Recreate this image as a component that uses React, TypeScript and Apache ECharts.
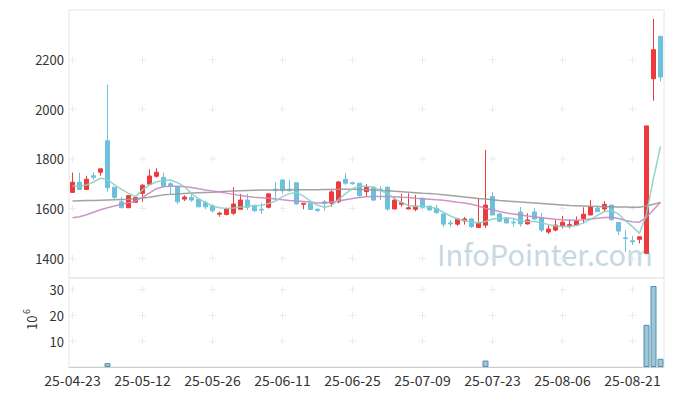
import React, { useEffect, useRef } from "react";
import * as echarts from "echarts";

const dates = [
  "25-04-23","25-04-24","25-04-25","25-04-28","25-04-29","25-04-30","25-05-02","25-05-07","25-05-08","25-05-09",
  "25-05-12","25-05-13","25-05-14","25-05-15","25-05-16","25-05-19","25-05-20","25-05-21","25-05-22","25-05-23",
  "25-05-26","25-05-27","25-05-28","25-05-29","25-05-30","25-06-02","25-06-04","25-06-05","25-06-09","25-06-10",
  "25-06-11","25-06-12","25-06-13","25-06-16","25-06-17","25-06-18","25-06-19","25-06-20","25-06-23","25-06-24",
  "25-06-25","25-06-26","25-06-27","25-06-30","25-07-01","25-07-02","25-07-03","25-07-04","25-07-07","25-07-08",
  "25-07-09","25-07-10","25-07-11","25-07-14","25-07-15","25-07-16","25-07-17","25-07-18","25-07-21","25-07-22",
  "25-07-23","25-07-24","25-07-25","25-07-28","25-07-29","25-07-30","25-07-31","25-08-01","25-08-04","25-08-05",
  "25-08-06","25-08-07","25-08-08","25-08-11","25-08-12","25-08-13","25-08-14","25-08-18","25-08-19","25-08-20",
  "25-08-21","25-08-22","25-08-25","25-08-26","25-08-27"
];

const opens = [
  1665,1706,1677,1732,1746,1873,1686,1627,1603,1625,
  1661,1698,1730,1726,1700,1688,1638,1644,1637,1623,
  1610,1577,1576,1581,1597,1634,1610,1597,1605,1678,
  1715,1678,1704,1617,1621,1597,1627,1621,1627,1718,
  1704,1702,1668,1686,1678,1686,1598,1617,1598,1597,
  1641,1610,1601,1578,1542,1537,1550,1558,1524,1533,
  1648,1578,1562,1545,1586,1538,1586,1563,1505,1513,
  1530,1530,1533,1560,1574,1601,1598,1614,1544,1482,
  1470,1476,1419,2123,2294
];
const closes = [
  1706,1677,1718,1726,1760,1684,1645,1603,1652,1644,
  1694,1731,1746,1690,1693,1627,1646,1634,1607,1607,
  1591,1581,1599,1618,1634,1605,1591,1594,1659,1672,
  1672,1672,1618,1621,1596,1592,1620,1667,1707,1702,
  1700,1652,1686,1634,1672,1598,1634,1623,1603,1610,
  1605,1594,1583,1537,1538,1558,1558,1527,1541,1614,
  1574,1549,1542,1542,1538,1554,1558,1513,1517,1533,
  1545,1535,1550,1577,1607,1588,1617,1555,1509,1479,
  1466,1486,1933,2240,2130
];
const lows = [
  1665,1676,1677,1715,1732,1668,1639,1603,1603,1625,
  1627,1698,1724,1690,1656,1618,1630,1627,1605,1597,
  1584,1567,1572,1574,1597,1594,1586,1578,1600,1634,
  1660,1668,1617,1597,1594,1586,1591,1607,1621,1695,
  1696,1648,1648,1630,1634,1591,1598,1607,1598,1589,
  1601,1594,1580,1525,1527,1530,1535,1522,1524,1522,
  1574,1545,1540,1527,1527,1535,1555,1505,1497,1508,
  1520,1520,1533,1540,1574,1585,1587,1552,1493,1425,
  1453,1459,1419,2034,2112
];
const highs = [
  1745,1745,1732,1746,1760,2099,1686,1645,1652,1644,
  1698,1758,1762,1745,1708,1688,1653,1661,1640,1631,
  1617,1587,1603,1686,1659,1659,1617,1623,1662,1706,
  1718,1715,1704,1623,1623,1601,1635,1675,1711,1742,
  1708,1702,1698,1690,1690,1690,1645,1659,1661,1655,
  1645,1610,1614,1580,1554,1562,1566,1560,1641,1836,
  1666,1582,1565,1559,1606,1581,1601,1582,1533,1554,
  1570,1556,1568,1605,1634,1611,1630,1614,1544,1513,
  1490,1488,1933,2364,2294
];

const ma5 = [
  1691,1691,1695,1707,1722,1717,1695,1677,1661,1648,
  1675,1695,1708,1713,1715,1704,1688,1660,1640,1625,
  1610,1603,1600,1602,1606,1608,1612,1612,1620,1630,
  1648,1660,1665,1650,1630,1613,1605,1612,1636,1660,
  1680,1690,1690,1685,1672,1660,1640,1625,1612,1608,
  1610,1605,1600,1585,1570,1558,1552,1545,1543,1548,
  1558,1560,1562,1560,1550,1548,1548,1543,1535,1530,
  1528,1528,1532,1542,1556,1572,1588,1592,1578,1550,
  1527,1500,1578,1722,1850
];
const ma20 = [
  1563,1567,1575,1585,1595,1603,1610,1617,1623,1630,
  1645,1663,1680,1688,1690,1690,1688,1685,1680,1675,
  1671,1667,1662,1657,1652,1648,1645,1643,1641,1638,
  1635,1632,1630,1628,1626,1622,1622,1626,1630,1635,
  1640,1644,1647,1648,1648,1648,1647,1645,1644,1641,
  1639,1637,1635,1633,1629,1625,1622,1617,1610,1600,
  1595,1588,1582,1578,1574,1570,1567,1563,1560,1557,
  1555,1553,1553,1555,1558,1561,1564,1565,1560,1552,
  1547,1545,1565,1595,1625
];
const ma60 = [
  1630,1631,1632,1632,1633,1634,1635,1636,1637,1639,
  1642,1645,1650,1655,1657,1659,1661,1663,1664,1665,
  1666,1668,1670,1671,1672,1673,1674,1675,1675,1675,
  1676,1676,1676,1676,1676,1676,1677,1677,1678,1678,
  1678,1677,1676,1675,1673,1672,1670,1668,1666,1664,
  1662,1661,1658,1655,1652,1649,1646,1643,1640,1638,
  1635,1632,1630,1628,1626,1624,1622,1620,1618,1616,
  1614,1612,1611,1610,1609,1608,1607,1607,1606,1606,
  1605,1605,1610,1617,1624
];

// volume in millions of shares (days too small to see are 0)
const volumes = [
  0,0,0,0,0,1.5,0,0,0,0,
  0,0,0,0,0,0,0,0,0,0,
  0,0,0,0,0,0,0,0,0,0,
  0,0,0,0,0,0,0,0,0,0,
  0,0,0,0,0,0,0,0,0,0,
  0,0,0,0,0,0,0,0,0,2.5,
  0,0,0,0,0,0,0,0,0,0,
  0,0,0,0,0,0,0,0,0,0,
  0,0,16.4,31.5,3.2
];

const priceTicks = [1400, 1600, 1800, 2000, 2200];
const volumeTicks = [10, 20, 30];
const labelEvery = 10;

const RED = "#ee3a3a";
const BLUE = "#6cc2dc";
const FONT = "'Noto Sans CJK KR', 'Noto Sans', sans-serif";

export default function App() {
  const ref = useRef<HTMLDivElement>(null);
  useEffect(() => {
    const chart = echarts.init(ref.current!, null, { renderer: "svg" });
    const candleData = dates.map((_, i) => [opens[i], closes[i], lows[i], highs[i]]);
    const tickIdx = dates.map((_, i) => i).filter((i) => i % labelEvery === 0);
    const mainMarks: number[][] = [];
    tickIdx.forEach((i) => priceTicks.forEach((v) => mainMarks.push([i, v])));
    const volMarks: number[][] = [];
    tickIdx.forEach((i) => volumeTicks.forEach((v) => volMarks.push([i, v])));
    const plus = "path://M3,0h1v3h3v1h-3v3h-1v-3h-3v-1h3z";
    const grids = [
      { left: 69, top: 10, width: 595, height: 268 },
      { left: 69, top: 278, width: 595, height: 89 },
    ];
    const volData = volumes.map((v) =>
      v > 0 ? v : { value: v, itemStyle: { borderWidth: 0, opacity: 0 } }
    );
    chart.setOption({
      animation: false,
      textStyle: { fontFamily: FONT },
      grid: grids.map((g) => ({
        ...g,
        show: true,
        borderColor: "#e6e6e6",
        borderWidth: 1,
        backgroundColor: "transparent",
      })),
      xAxis: [
        {
          type: "category",
          gridIndex: 0,
          data: dates,
          boundaryGap: true,
          axisLine: { show: false },
          axisTick: { show: false },
          axisLabel: { show: false },
          splitLine: { show: false },
        },
        {
          type: "category",
          gridIndex: 1,
          data: dates,
          boundaryGap: true,
          axisLine: { show: true, lineStyle: { color: "#cccccc" } },
          axisTick: { show: false },
          axisLabel: {
            interval: labelEvery - 1,
            color: "#333",
            fontSize: 14,
            fontFamily: FONT,
            margin: 6,
          },
          splitLine: { show: false },
        },
      ],
      yAxis: [
        {
          type: "value",
          gridIndex: 0,
          min: 1320,
          max: 2400,
          axisLine: { show: false },
          axisTick: { show: false },
          splitLine: { show: false },
          axisLabel: {
            customValues: priceTicks,
            formatter: (v: number) => String(v),
            color: "#333",
            fontSize: 13,
            fontFamily: FONT,
            margin: 5,
          },
        },
        {
          type: "value",
          gridIndex: 1,
          min: 0,
          max: 34.6,
          axisLine: { show: false },
          axisTick: { show: false },
          splitLine: { show: false },
          axisLabel: {
            customValues: volumeTicks,
            formatter: (v: number) => String(v),
            color: "#333",
            fontSize: 13,
            fontFamily: FONT,
            margin: 5,
          },
        },
      ],
      graphic: [
        {
          type: "text",
          left: 437,
          top: 238,
          silent: true,
          z: 0,
          style: {
            text: "InfoPointer.com",
            fill: "#c5d8e4",
            fontSize: 29,
            fontFamily: FONT,
          },
        },
        {
          type: "group",
          x: 38,
          y: 330,
          rotation: Math.PI / 2,
          children: [
            {
              type: "text",
              x: 0,
              y: 0,
              style: { text: "10", fontSize: 13, fill: "#333", fontFamily: FONT, textVerticalAlign: "bottom" },
            },
            {
              type: "text",
              x: 16,
              y: -7,
              style: { text: "6", fontSize: 9, fill: "#333", fontFamily: FONT, textVerticalAlign: "bottom" },
            },
          ],
        },
      ],
      series: [
        {
          type: "scatter",
          xAxisIndex: 0,
          yAxisIndex: 0,
          data: mainMarks,
          symbol: plus,
          symbolSize: 7,
          itemStyle: { color: "#e6e6e6" },
          silent: true,
          z: 1,
        },
        {
          type: "scatter",
          xAxisIndex: 1,
          yAxisIndex: 1,
          data: volMarks,
          symbol: plus,
          symbolSize: 7,
          itemStyle: { color: "#e6e6e6" },
          silent: true,
          z: 1,
        },
        {
          type: "candlestick",
          xAxisIndex: 0,
          yAxisIndex: 0,
          data: candleData,
          barWidth: 5,
          itemStyle: {
            color: RED,
            color0: BLUE,
            borderColor: RED,
            borderColor0: BLUE,
            borderWidth: 1,
          },
          z: 3,
        },
        {
          type: "line",
          xAxisIndex: 0,
          yAxisIndex: 0,
          data: ma60,
          symbol: "none",
          lineStyle: { color: "#999999", width: 1.5, opacity: 0.9 },
          z: 4,
        },
        {
          type: "line",
          xAxisIndex: 0,
          yAxisIndex: 0,
          data: ma20,
          symbol: "none",
          lineStyle: { color: "#c68ac4", width: 1.5, opacity: 0.9 },
          z: 4,
        },
        {
          type: "line",
          xAxisIndex: 0,
          yAxisIndex: 0,
          data: ma5,
          symbol: "none",
          lineStyle: { color: "#8ccfc6", width: 1.5, opacity: 0.9 },
          z: 4,
        },
        {
          type: "bar",
          xAxisIndex: 1,
          yAxisIndex: 1,
          data: volData,
          barWidth: 6,
          itemStyle: {
            color: "rgba(120,172,198,0.7)",
            borderColor: "#4f8fae",
            borderWidth: 1,
          },
          z: 3,
        },
      ],
    });
    return () => chart.dispose();
  }, []);
  return (
    <div
      ref={ref}
      style={{ position: "absolute", left: 0, top: 0, width: 673, height: 396 }}
    />
  );
}
